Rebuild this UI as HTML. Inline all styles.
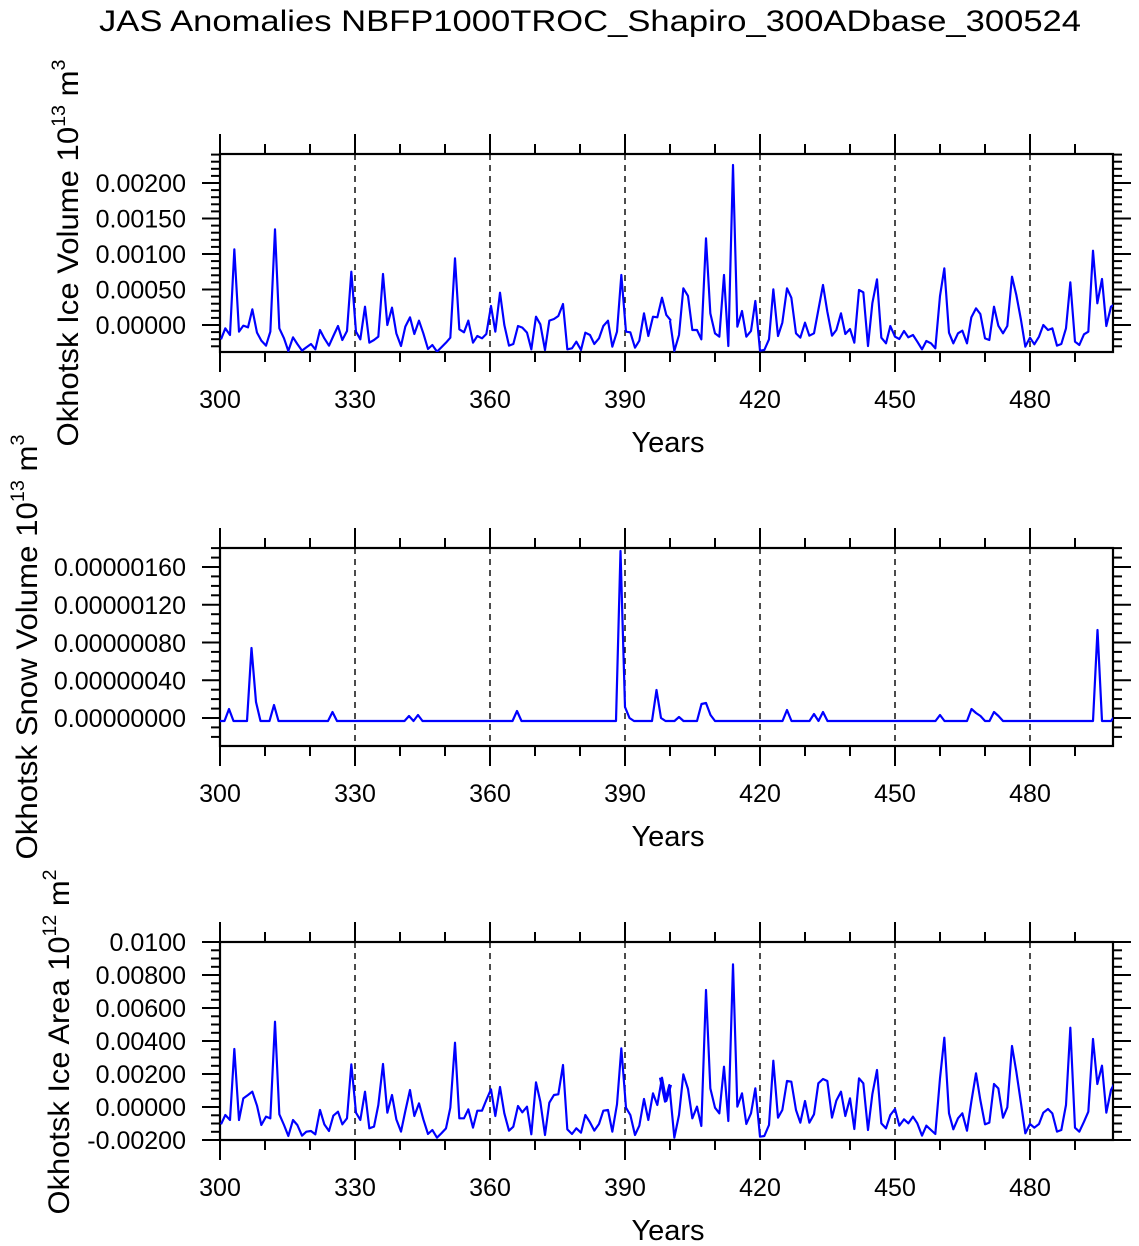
<!DOCTYPE html>
<html><head><meta charset="utf-8"><style>
html,body{margin:0;padding:0;background:#fff;}
svg{display:block;font-family:"Liberation Sans",Arial,sans-serif;}
</style></head><body>
<svg id="s" width="1139" height="1246" viewBox="0 0 1139 1246" xmlns="http://www.w3.org/2000/svg">
<rect width="1139" height="1246" fill="#fff"/>
<defs>
<clipPath id="c1"><rect x="220" y="154" width="893" height="198"/></clipPath>
<clipPath id="c2"><rect x="220" y="548" width="893" height="198"/></clipPath>
<clipPath id="c3"><rect x="220" y="942" width="893" height="198"/></clipPath>
</defs>
<text x="590" y="31" font-size="30" text-anchor="middle" textLength="982" lengthAdjust="spacingAndGlyphs">JAS Anomalies NBFP1000TROC_Shapiro_300ADbase_300524</text>
<g id="axes"></g>

<g clip-path="url(#c1)" fill="none" stroke="#0000ff" stroke-linejoin="round">
<g transform="translate(200,150) scale(0.33333)" stroke-width="6.5">
<polyline points="63,568 76,535 90,555 103,298 117,545 130,527 144,532 157,478 171,548 184,572 198,587 211,545 225,238 238,535 252,565 265,603 279,562 292,582 306,602 319,592 333,582 346,598 360,540 373,565 387,587 400,558 414,528 427,570 441,543 454,365 468,545 481,568 495,470 508,578 522,570 535,560 549,372 562,525 576,473 589,550 603,588 616,530 630,502 643,552 657,512 670,550 684,597 697,585 711,605 724,592 738,578 751,563 765,325 778,538 792,547 805,512 819,578 832,558 846,565 859,552 873,468 886,545 900,428 913,525 927,587 940,582 954,528 967,533 981,548 994,598 1008,500 1021,523 1035,600 1048,512 1062,507 1075,498 1089,462 1102,598 1116,595 1129,575 1143,600 1156,548 1170,555 1183,582 1197,565 1210,528 1224,512 1237,590 1251,545 1264,375 1278,545 1291,547 1305,593 1318,572 1332,490 1345,558 1359,500 1372,502 1386,443 1399,495 1413,512"/>
</g>
<g transform="translate(660,150) scale(0.33333)" stroke-width="6.5">
<polyline points="30,512 43,603 57,555 70,415 84,438 97,540 111,540 124,568 138,265 151,490 165,550 178,560 192,375 205,588 219,45 232,530 246,483 259,560 273,543 286,453 300,602 313,600 327,568 340,418 354,558 367,518 381,415 394,443 408,550 421,563 435,518 448,557 462,550 475,480 489,405 502,485 516,557 529,540 543,490 556,552 570,537 583,578 597,420 610,427 624,588 637,460 651,388 664,563 678,580 691,528 705,560 718,567 732,543 745,562 759,555 772,575 786,598 799,573 813,580 826,595 840,438 853,355 867,548 880,580 894,550 907,542 921,580 934,502 948,475 961,492 975,565 988,570 1002,470 1015,527 1029,550 1042,528 1056,380 1069,435 1083,510 1096,590 1110,563 1123,583 1137,560 1150,525 1164,540 1177,535 1191,587 1204,582 1218,535 1231,397 1245,575 1258,585 1272,553 1285,545 1299,302 1312,460 1326,387 1339,528 1353,470 1366,462"/>
</g>
</g>

<g clip-path="url(#c2)" fill="none" stroke="#0000ff" stroke-width="2.2" stroke-linejoin="round">
<polyline id="snow" points=""/>
</g>

<g clip-path="url(#c3)" fill="none" stroke="#0000ff" stroke-linejoin="round">
<g transform="translate(200,935) scale(0.33333)" stroke-width="6.5">
<polyline points="63,568 76,540 90,555 103,342 117,555 130,490 144,480 157,470 171,512 184,570 198,545 211,550 225,260 238,538 252,570 265,603 279,555 292,570 306,602 319,590 333,588 346,598 360,525 373,568 387,588 400,542 414,530 427,568 441,550 454,388 468,533 481,555 495,470 508,580 522,575 535,510 549,387 562,533 576,480 589,553 603,590 616,528 630,465 643,543 657,505 670,553 684,597 697,585 711,608 724,595 738,580 751,518 765,323 778,550 792,550 805,523 819,578 832,527 846,527 859,495 873,463 886,543 900,456 913,535 927,587 940,575 954,513 967,532 981,515 994,598 1008,442 1021,500 1035,600 1048,503 1062,480 1075,478 1089,390 1102,583 1116,597 1129,580 1143,593 1156,540 1170,562 1183,587 1197,567 1210,527 1224,525 1237,590 1251,508 1264,340 1278,518 1291,540 1305,600 1318,572 1332,492 1345,555 1359,475 1372,510 1386,428 1399,498 1413,450"/>
</g>
<g transform="translate(660,935) scale(0.33333)" stroke-width="6.5">
<polyline points="0,428 15,500 28,450 43,608 57,540 70,418 84,462 97,550 111,515 124,573 138,165 151,460 165,518 178,535 192,395 205,558 219,88 232,515 246,475 259,567 273,535 286,460 300,605 313,603 327,570 340,377 354,548 367,525 381,438 394,440 408,525 421,563 435,498 448,563 462,538 475,445 489,432 502,438 516,548 529,497 543,470 556,543 570,490 583,582 597,430 610,445 624,585 637,478 651,405 664,565 678,580 691,540 705,522 718,572 732,553 745,565 759,545 772,565 786,602 799,572 813,585 826,597 840,430 853,308 867,535 880,583 894,550 907,535 921,587 934,500 948,415 961,495 975,568 988,563 1002,447 1015,460 1029,548 1042,517 1056,333 1069,410 1083,505 1096,595 1110,567 1123,578 1137,567 1150,533 1164,522 1177,535 1191,590 1204,585 1218,510 1231,278 1245,578 1258,590 1272,560 1285,530 1299,312 1312,447 1326,392 1339,533 1353,465 1366,440"/>
</g>
</g>

<text transform="translate(78,253) rotate(-90)" font-size="30" text-anchor="middle" textLength="387" lengthAdjust="spacingAndGlyphs">Okhotsk Ice Volume 10<tspan font-size="19" dy="-13">13</tspan><tspan dy="13"> m</tspan><tspan font-size="19" dy="-13">3</tspan></text>
<text transform="translate(37,647) rotate(-90)" font-size="30" text-anchor="middle" textLength="425" lengthAdjust="spacingAndGlyphs">Okhotsk Snow Volume 10<tspan font-size="19" dy="-13">13</tspan><tspan dy="13"> m</tspan><tspan font-size="19" dy="-13">3</tspan></text>
<text transform="translate(69,1042) rotate(-90)" font-size="30" text-anchor="middle" textLength="345" lengthAdjust="spacingAndGlyphs">Okhotsk Ice Area 10<tspan font-size="19" dy="-13">12</tspan><tspan dy="13"> m</tspan><tspan font-size="19" dy="-13">2</tspan></text>
</svg>
<script>
(function(){
var NS="http://www.w3.org/2000/svg",g=document.getElementById("axes");
function el(t,a,txt){var e=document.createElementNS(NS,t);for(var k in a)e.setAttribute(k,a[k]);if(txt!==undefined)e.textContent=txt;g.appendChild(e);return e;}
function ln(x1,y1,x2,y2,w,d){var a={x1:x1,y1:y1,x2:x2,y2:y2,stroke:"#000","stroke-width":w||2};if(d)a["stroke-dasharray"]=d;el("line",a);}
var L=220,R=1113;
function panel(top,labels,zeroY,step,minorStep){
  var bot=top+198;
  [330,360,390,420,450,480].forEach(function(yr){var x=L+4.5*(yr-300);ln(x,top,x,bot,1.4,"6,5");});
  for(var yr=300;yr<=498;yr+=10){var x=L+4.5*(yr-300);var maj=(yr%30==0);
    ln(x,bot,x,bot+(maj?20:10),2);ln(x,top,x,top-(maj?20:10),2);
    if(maj) el("text",{x:x,y:bot+56,"font-size":25,"text-anchor":"middle"},String(yr));}
  for(var y=zeroY+Math.ceil((top-zeroY)/minorStep)*minorStep;y<=bot+0.01;y+=minorStep){
    var maj=(Math.round((zeroY-y)/step*1000)%1000==0);
    var yy=Math.round(y*10)/10;
    ln(L,yy,L-(maj?18:9),yy,2);ln(R,yy,R+(maj?18:9),yy,2);}
  labels.forEach(function(p){el("text",{x:186,y:p[0]+9,"font-size":25,"text-anchor":"end"},p[1]);});
  el("rect",{x:L,y:top,width:R-L,height:198,fill:"none",stroke:"#000","stroke-width":2.2});
  el("text",{x:668,y:bot+100,"font-size":29,"text-anchor":"middle"},"Years");
}
panel(154,[[183,"0.00200"],[218.5,"0.00150"],[254,"0.00100"],[289.5,"0.00050"],[325,"0.00000"]],325,35.5,7.1);
panel(548,[[567,"0.00000160"],[605,"0.00000120"],[643,"0.00000080"],[680.5,"0.00000040"],[718,"0.00000000"]],718,37.75,9.4375);
panel(942,[[942,"0.0100"],[975,"0.00800"],[1008,"0.00600"],[1041,"0.00400"],[1074,"0.00200"],[1107,"0.00000"],[1140,"-0.00200"]],1107,33,8.25);
var sp={302:709,307:648,308:702,312:705,325:712,342:716,344:715,366:711,389:551,390:707,391:718,397:690,398:718,402:717,407:704,408:703,409:715,426:710,432:714,434:712,460:715,467:709,468:713,469:716,472:712,473:716,495:630,499:715};
var pts=[];for(var yr=300;yr<=499;yr++){pts.push((L+4.5*(yr-300))+","+(sp[yr]||721));}
document.getElementById("snow").setAttribute("points",pts.join(" "));
})();
</script>
</body></html>
